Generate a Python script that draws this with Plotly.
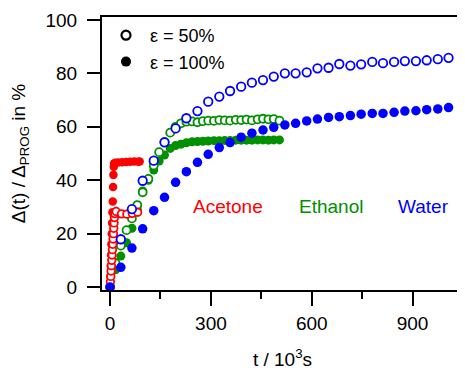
import plotly.graph_objects as go

# ---------------- data ----------------
water_t = [32, 65, 97, 130, 162, 195, 227, 260, 292, 325, 357, 390, 422, 455, 487,
           520, 552, 585, 617, 650, 682, 715, 747, 780, 812, 845, 877, 910, 942, 975, 1007]
water_50 = [17.9, 29.2, 39.8, 47.3, 54.2, 59.4, 63.2, 65.9, 69.4, 71.3, 73.4, 75.0, 76.5, 77.5, 78.8,
            80.0, 80.0, 80.4, 81.9, 82.1, 83.5, 82.9, 83.4, 84.3, 83.8, 84.3, 84.6, 84.6, 84.9, 85.3, 85.8]
water_100_t = [0] + water_t
water_100 = [0, 7.4, 14.6, 21.8, 28.6, 33.6, 39.2, 43.2, 46.7, 49.7, 52.2, 54.1, 56.1, 57.6, 58.8, 59.8,
             60.7, 61.3, 62.2, 62.9, 63.5, 63.8, 64.2, 64.7, 65.0, 65.0, 65.4, 65.9, 66.0, 66.4, 66.7, 67.2]

ethanol_t = [0, 16, 32, 49, 65, 81, 97, 114, 130, 146, 162, 179, 195, 211, 227, 244,
             260, 276, 292, 309, 325, 341, 357, 374, 390, 406, 422, 439, 455, 471, 487, 504]
ethanol_50 = [0, 9.0, 15.5, 21.3, 25.7, 30.7, 35.5, 40.5, 45.5, 50.5, 54.3, 57.8, 60.0, 61.3, 61.9, 62.0,
              61.7, 62.1, 62.3, 62.2, 62.5, 62.4, 62.3, 62.6, 62.5, 62.7, 62.4, 62.8, 63.0, 62.8, 62.9, 62.3]
ethanol_100 = [0, 6.5, 11.6, 16.6, 22.0, 29.0, 36.0, 40.0, 43.8, 47.2, 49.4, 51.9, 53.0, 53.5, 54.0, 54.4,
               54.5, 54.6, 54.7, 54.8, 54.8, 54.9, 54.9, 55.0, 55.0, 55.0, 55.0, 55.1, 55.1, 55.0, 55.1, 55.1]

acetone_100_t = [0, 1, 2, 3, 4, 5, 6, 7, 8, 9, 10, 11, 12, 16, 24, 36, 48, 60, 72, 84, 88]
acetone_100 = [0, 4, 8, 12, 16, 20, 24, 28, 32, 37.5, 42, 45, 46.3, 46.5, 46.6, 46.7, 46.8, 46.9, 47.0, 46.9, 47.0]
acetone_50_t = [0, 1, 2, 3, 4, 5, 6, 7, 8, 9, 10, 11, 12, 13, 14, 18, 34, 50, 66, 82]
acetone_50 = [0, 2, 4, 6, 8, 10, 12, 14, 16, 18, 20, 22, 24, 26, 27.5, 28.3, 27.4, 27.3, 27.6, 28.0]

x_ticks = [0, 300, 600, 900]
y_ticks = [0, 20, 40, 60, 80, 100]
labels = ["Acetone", "Ethanol", "Water"]
label_x = [350, 656, 933]
label_y = [30, 30, 30]

RED, GREEN, BLUE = "#FF0000", "#009000", "#0000FF"
FONT = "Liberation Sans, Arial, sans-serif"
FS = 19

fig = go.Figure()

def filled(x, y, c, size=9):
    fig.add_trace(go.Scatter(x=x, y=y, mode="markers", showlegend=False,
                             marker=dict(symbol="circle", size=size, color=c, line=dict(width=0))))

def hollow(x, y, c, size=8):
    fig.add_trace(go.Scatter(x=x, y=y, mode="markers", showlegend=False,
                             marker=dict(symbol="circle", size=size, color="white",
                                         line=dict(width=1.8, color=c))))

filled(ethanol_t, ethanol_100, GREEN)
hollow(ethanol_t, ethanol_50, GREEN)
filled(acetone_100_t, acetone_100, RED, 8.5)
hollow(acetone_50_t, acetone_50, RED, 7.5)
hollow(water_t, water_50, BLUE, 8.5)
filled(water_100_t, water_100, BLUE, 9.5)

# legend entries
fig.add_trace(go.Scatter(x=[None], y=[None], mode="markers", name="ε = 50%",
                         marker=dict(symbol="circle", size=9, color="white", line=dict(width=2.2, color="black"))))
fig.add_trace(go.Scatter(x=[None], y=[None], mode="markers", name="ε = 100%",
                         marker=dict(symbol="circle", size=10, color="black", line=dict(width=0))))

for txt, xx, yy, c in zip(labels, label_x, label_y, [RED, GREEN, BLUE]):
    fig.add_annotation(x=xx, y=yy, text=txt, showarrow=False, xref="x", yref="y",
                       font=dict(size=FS, color=c, family=FONT))

# page body has an 8px default margin, so the figure is shifted by 8px
fig.update_layout(
    width=457, height=362,
    margin=dict(l=94, r=2, t=9, b=80, autoexpand=False),
    paper_bgcolor="white", plot_bgcolor="white",
    font=dict(family=FONT, size=FS, color="black"),
    showlegend=True,
    legend=dict(x=0.0, y=1.0, xanchor="left", yanchor="top", bgcolor="rgba(0,0,0,0)",
                font=dict(size=18), tracegroupgap=0, itemsizing="trace", itemwidth=38),
    xaxis=dict(range=[-24, 1050], tickvals=x_ticks, ticks="outside", ticklen=14, tickwidth=2,
               tickcolor="black", showline=True, linewidth=2, linecolor="black", mirror=True,
               showgrid=False, zeroline=False, ticklabelstandoff=1, automargin=False,
               minor=dict(dtick=150, tick0=0, ticks="outside", ticklen=7, tickwidth=2, tickcolor="black"),
               title=dict(text="t / 10<sup>3</sup>s", font=dict(size=FS), standoff=20)),
    yaxis=dict(range=[-1.1, 101.1], tickvals=y_ticks, ticks="outside", ticklen=13, tickwidth=2,
               tickcolor="black", showline=True, linewidth=2, linecolor="black", mirror=True,
               showgrid=False, zeroline=False, ticklabelstandoff=6, automargin=False,
               title=dict(text="Δ(t) / Δ<sub>PROG</sub> in %", font=dict(size=FS), standoff=16)),
)

fig.write_html("out.html")
